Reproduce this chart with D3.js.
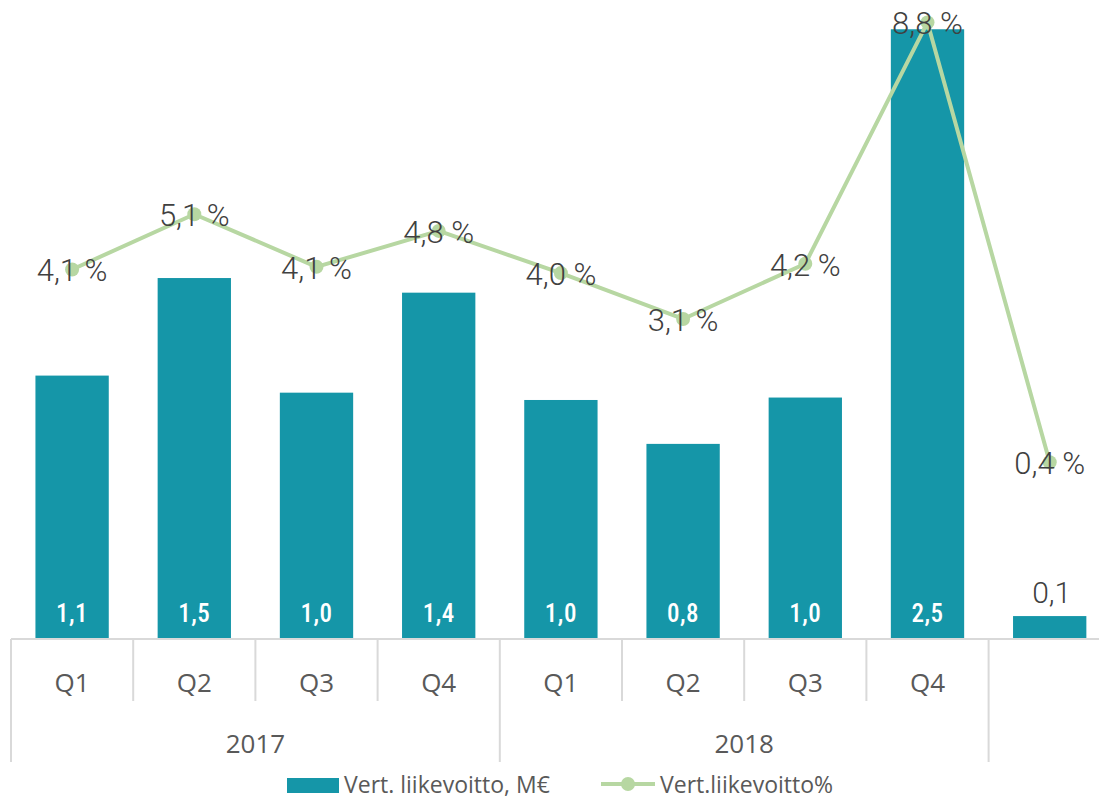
<!DOCTYPE html>
<html>
<head>
<meta charset="utf-8">
<script src="https://cdn.jsdelivr.net/npm/d3@7"></script>
<style>
  body { margin: 0; background: #fff; }
  .num { font-family: "Roboto Condensed", "Roboto", sans-serif; }
  .pct { font-family: "Roboto", sans-serif; }
  .cat { font-family: "Open Sans", "Liberation Sans", sans-serif; fill: #595959; }
</style>
</head>
<body>
<div id="chart"></div>
<script>
'use strict';

// data
const years = ['2017', '2018', ''];
const quarters = ['Q1', 'Q2', 'Q3', 'Q4', 'Q1', 'Q2', 'Q3', 'Q4', ''];
const yearOf = [0, 0, 0, 0, 1, 1, 1, 1, 2];
const profitMEur = [1.08, 1.48, 1.01, 1.42, 0.98, 0.80, 0.99, 2.50, 0.094];
const profitPct = [4.06, 5.12, 4.11, 4.80, 3.99, 3.11, 4.17, 8.80, 0.36];
const legendNames = ['Vert. liikevoitto, M€', 'Vert.liikevoitto%'];

const width = 1099, height = 799;
const baseY = 639;
const teal = '#1596A8', green = '#B7D7A2', grid = '#D9D9D9';

const fmt = v => v.toFixed(1).replace('.', ',');

const svg = d3.select('#chart')
    .append('svg')
    .attr('width', width)
    .attr('height', height);

const idx = d3.range(quarters.length);

const x = d3.scaleBand()
    .domain(idx)
    .range([11, 11 + 122.2 * quarters.length])
    .paddingInner(0.4)
    .paddingOuter(0.2);

const y = d3.scaleLinear().domain([0, 2.62]).range([baseY, 0]);
const y2 = d3.scaleLinear().domain([-3.03, 9.23]).range([baseY, 0]);

const cx = i => x(i) + x.bandwidth() / 2;
const step = x.step();
const inside = d => (baseY - y(d)) > 50;

// bars
svg.append('g').selectAll('rect')
    .data(profitMEur)
    .join('rect')
    .attr('x', (d, i) => x(i))
    .attr('y', d => y(d))
    .attr('width', x.bandwidth())
    .attr('height', d => baseY - y(d))
    .attr('fill', teal);

// bar labels (inside the bar, or above it when it is too short)
svg.append('g').selectAll('text')
    .data(profitMEur)
    .join('text')
    .attr('class', d => inside(d) ? 'num' : 'pct')
    .attr('x', (d, i) => cx(i) + (inside(d) ? 0 : 2))
    .attr('y', d => inside(d) ? baseY - 17 : y(d) - 13)
    .attr('text-anchor', 'middle')
    .attr('font-size', d => inside(d) ? 25 : 30)
    .attr('font-weight', d => inside(d) ? 500 : 300)
    .attr('letter-spacing', d => inside(d) ? 0.5 : 0)
    .attr('fill', d => inside(d) ? '#fff' : '#404040')
    .text(d => fmt(d));

// category axis
const axis = svg.append('g');
axis.append('line')
    .attr('x1', 11).attr('x2', width)
    .attr('y1', baseY).attr('y2', baseY)
    .attr('stroke', grid).attr('stroke-width', 2);

idx.concat([quarters.length]).forEach(i => {
    const xx = 11 + i * step;
    const isYearEdge = i === 0 || i === quarters.length || yearOf[i] !== yearOf[i - 1];
    axis.append('line')
        .attr('x1', xx).attr('x2', xx)
        .attr('y1', baseY).attr('y2', isYearEdge ? 762 : 701)
        .attr('stroke', grid).attr('stroke-width', 2);
});

axis.selectAll('text.q')
    .data(quarters)
    .join('text')
    .attr('class', 'cat q')
    .attr('x', (d, i) => cx(i))
    .attr('y', 692)
    .attr('text-anchor', 'middle')
    .attr('font-size', 26)
    .text(d => d);

axis.selectAll('text.yr')
    .data(years)
    .join('text')
    .attr('class', 'cat yr')
    .attr('x', (d, k) => {
        const members = idx.filter(i => yearOf[i] === k);
        return (cx(members[0]) + cx(members[members.length - 1])) / 2;
    })
    .attr('y', 753)
    .attr('text-anchor', 'middle')
    .attr('font-size', 26)
    .text(d => d);

// line
const line = d3.line()
    .x((d, i) => cx(i))
    .y(d => y2(d));

svg.append('path')
    .datum(profitPct)
    .attr('d', line)
    .attr('fill', 'none')
    .attr('stroke', green)
    .attr('stroke-width', 4)
    .attr('stroke-linejoin', 'round');

svg.append('g').selectAll('circle')
    .data(profitPct)
    .join('circle')
    .attr('cx', (d, i) => cx(i))
    .attr('cy', d => y2(d))
    .attr('r', 7)
    .attr('fill', green);

svg.append('g').selectAll('text')
    .data(profitPct)
    .join('text')
    .attr('class', 'pct')
    .attr('x', (d, i) => cx(i))
    .attr('y', d => y2(d) + 12)
    .attr('text-anchor', 'middle')
    .attr('font-size', 31)
    .attr('font-weight', 300)
    .attr('fill', '#404040')
    .text(d => fmt(d) + ' %');

// legend
const legend = svg.append('g').attr('class', 'cat');
legend.append('rect')
    .attr('x', 287).attr('y', 778)
    .attr('width', 52).attr('height', 15)
    .attr('fill', teal);
legend.append('text')
    .attr('x', 344).attr('y', 793)
    .attr('font-size', 23)
    .text(legendNames[0]);
legend.append('line')
    .attr('x1', 601).attr('x2', 655)
    .attr('y1', 784).attr('y2', 784)
    .attr('stroke', green).attr('stroke-width', 4);
legend.append('circle')
    .attr('cx', 628).attr('cy', 784).attr('r', 7)
    .attr('fill', green);
legend.append('text')
    .attr('x', 660).attr('y', 793)
    .attr('font-size', 23)
    .text(legendNames[1]);
</script>
</body>
</html>
